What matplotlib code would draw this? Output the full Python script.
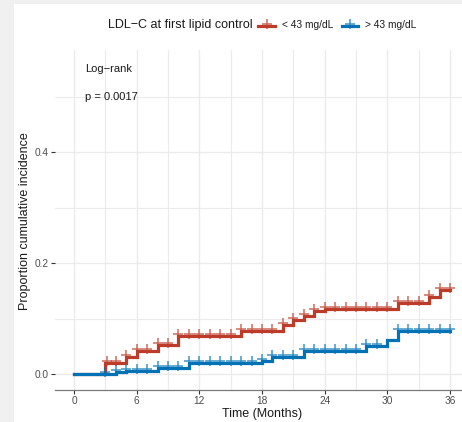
import matplotlib
matplotlib.use("Agg")
import matplotlib.pyplot as plt
from matplotlib.lines import Line2D
from matplotlib.patches import Rectangle
from matplotlib.transforms import ScaledTranslation

plt.rcParams['font.family'] = ['Liberation Sans', 'DejaVu Sans']

# Cumulative incidence step curves (time in months, proportion)
low_times = [0, 3, 5, 6, 8, 10, 16, 20, 21, 22, 23, 24, 31, 34, 35, 36]
low_values = [0, 0.019, 0.030, 0.042, 0.052, 0.069, 0.078, 0.089, 0.098,
              0.105, 0.113, 0.118, 0.128, 0.139, 0.152, 0.152]
high_times = [0, 4, 5, 8, 11, 18, 19, 22, 28, 30, 31, 36]
high_values = [0, 0.003, 0.006, 0.011, 0.020, 0.024, 0.031, 0.041, 0.050,
               0.062, 0.077, 0.077]

# Censoring times
low_censor = [3.2] + list(range(4, 37))
high_censor = [3] + list(range(4, 30)) + list(range(31, 37))

series_labels = ["< 43 mg/dL", "> 43 mg/dL"]
legend_title = "LDL\u2212C at first lipid control"
x_ticks = [0, 6, 12, 18, 24, 30, 36]
y_ticks = [0.0, 0.2, 0.4]
y_tick_labels = ["0.0", "0.2", "0.4"]

RED = "#BC3C29"
BLUE = "#0072B5"

W, H = 462, 422
fig = plt.figure(figsize=(W / 100, H / 100), dpi=100, facecolor="#f0f0f0")
fig.add_artist(Rectangle((14 / W, 0), 1 - 14 / W, (H - 4) / H,
                         transform=fig.transFigure, facecolor="white",
                         edgecolor="none", zorder=0))

ax = fig.add_axes([55.2 / W, 32 / H, (468.8 - 55.2) / W, 340 / H])
ax.set_facecolor("white")
ax.set_xlim(-1.8, 37.8)
ax.set_ylim(-0.0288, 0.5838)

# Grid
ax.set_xticks(x_ticks)
ax.set_xticks([3, 9, 15, 21, 27, 33], minor=True)
ax.set_yticks(y_ticks)
ax.set_yticklabels(y_tick_labels)
ax.set_yticks([0.1, 0.3, 0.5], minor=True)
ax.grid(True, which="major", color="#ebebeb", lw=1.0)
ax.grid(True, which="minor", color="#ebebeb", lw=0.8)
ax.set_axisbelow(True)

for s in ["top", "right", "left"]:
    ax.spines[s].set_visible(False)
ax.spines["bottom"].set_color("#7a7a7a")
ax.spines["bottom"].set_linewidth(0.9)

ax.tick_params(axis="both", which="major", length=3, width=0.8,
               color="#333333", labelcolor="#4d4d4d", labelsize=7.3, pad=1.5)
ax.tick_params(axis="both", which="minor", length=0)

# Curves
ax.step(low_times, low_values, where="post", color=RED, lw=2.3, zorder=3,
        solid_joinstyle="miter")
ax.step(high_times, high_values, where="post", color=BLUE, lw=2.3, zorder=4,
        solid_joinstyle="miter")


def level_at(times, values, t):
    v = values[0]
    for tt, vv in zip(times, values):
        if tt <= t:
            v = vv
    return v


mark_shift = ax.transData + ScaledTranslation(0, 2.0 / 100, fig.dpi_scale_trans)
ax.plot(low_censor, [level_at(low_times, low_values, t) for t in low_censor],
        ls="none", marker="+", ms=6.5, mew=1.1, color=RED, alpha=0.75,
        transform=mark_shift, zorder=5)
ax.plot(high_censor, [level_at(high_times, high_values, t) for t in high_censor],
        ls="none", marker="+", ms=6.5, mew=1.1, color=BLUE, alpha=0.75,
        transform=mark_shift, zorder=5)

ax.text(1.05, 0.549, "Log\u2212rank", fontsize=8, ha="left", va="center",
        color="#1a1a1a")
ax.text(1.05, 0.499, "p = 0.0017", fontsize=8, ha="left", va="center",
        color="#1a1a1a")

ax.set_xlabel("Time (Months)", fontsize=9, color="#1a1a1a", labelpad=1)
fig.text(25 / W, (H - 221) / H, "Proportion cumulative incidence",
         fontsize=9, rotation=90, ha="center", va="center", color="#1a1a1a")

# Legend across the top
ly = (H - 25) / H
fig.text(108 / W, ly, legend_title, fontsize=9, ha="left", va="center",
         color="#1a1a1a")
for (x0, x1, tx), col, lab in zip([(258, 275, 282), (342, 358, 365)],
                                  [RED, BLUE], series_labels):
    fig.add_artist(Line2D([x0 / W, x1 / W], [(H - 25.5) / H] * 2,
                          transform=fig.transFigure, color=col, lw=2.3))
    fig.add_artist(Line2D([(x0 + x1) / 2 / W], [(H - 23.5) / H],
                          transform=fig.transFigure, color=col, marker="+",
                          ms=6.5, mew=1.1, alpha=0.75, ls="none"))
    fig.text(tx / W, ly, lab, fontsize=7.3, ha="left", va="center",
             color="#1a1a1a")

fig.savefig("out.png", dpi=100, facecolor=fig.get_facecolor())
